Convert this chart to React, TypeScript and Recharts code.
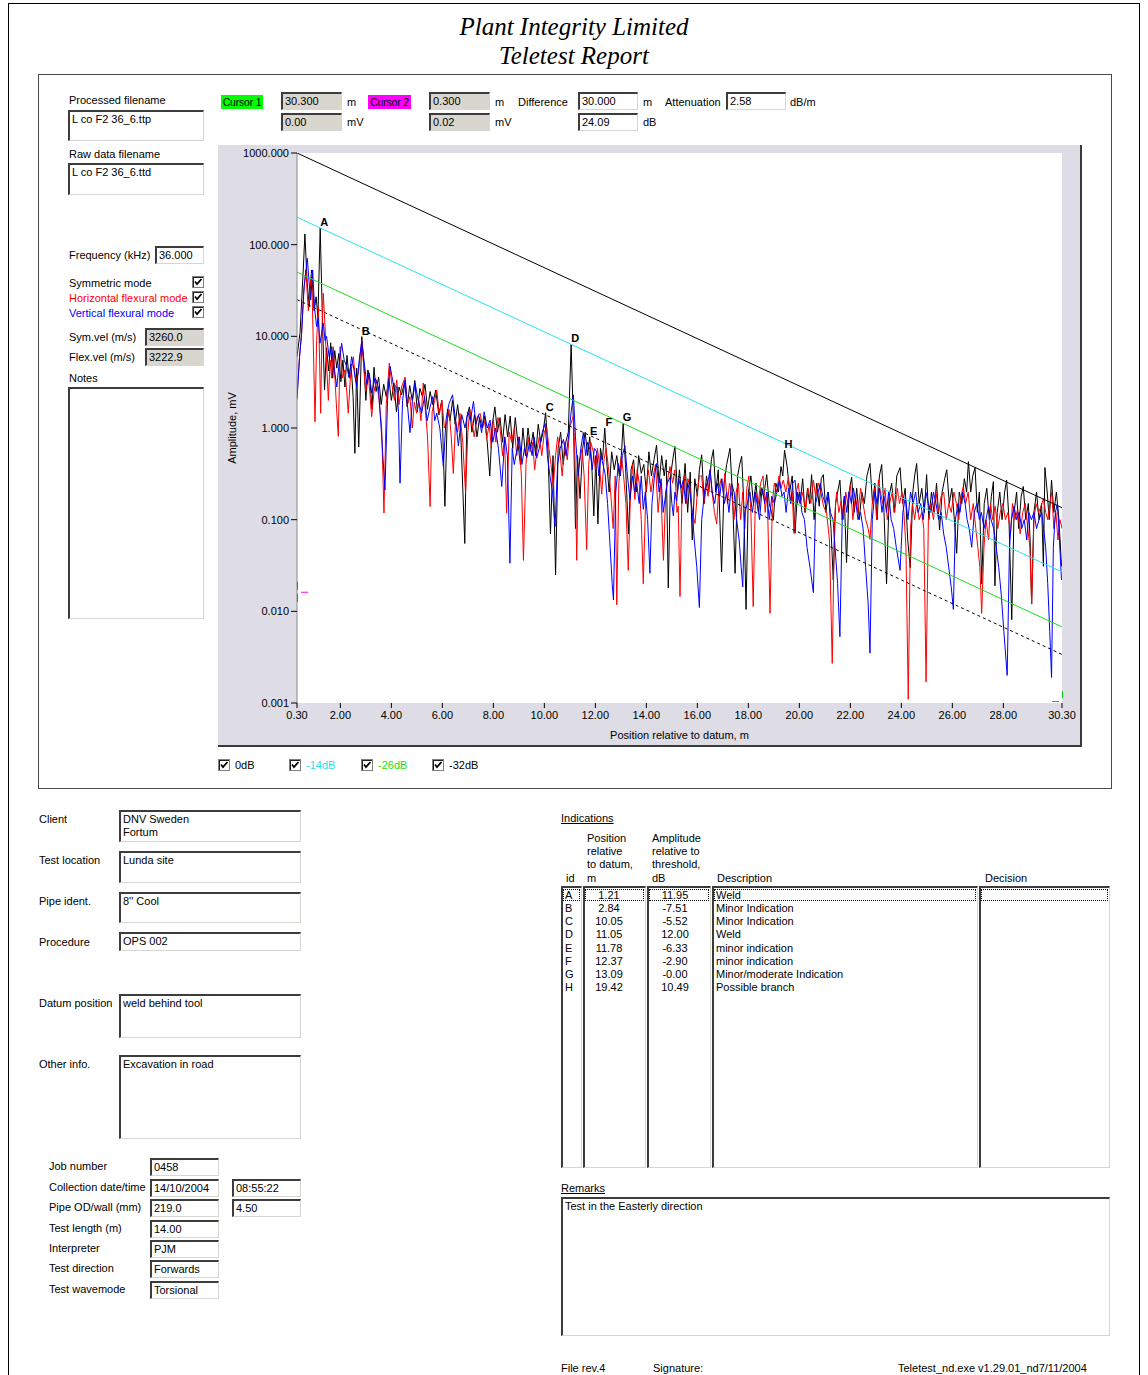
import React from 'react';
import { LineChart, Line, XAxis, YAxis, ReferenceArea, ReferenceDot, Label } from 'recharts';

const FONT = '"Liberation Sans", Arial, Helvetica, sans-serif';
const SERIF = '"Liberation Serif", "Times New Roman", serif';

// ---- axes -------------------------------------------------------------
const X_TICKS = [0.3, 2, 4, 6, 8, 10, 12, 14, 16, 18, 20, 22, 24, 26, 28, 30.3];
const Y_TICKS = [0.001, 0.01, 0.1, 1, 10, 100, 1000];
const RANGE_START = 0.3;
const RANGE_END = 30.3;

// ---- distance-amplitude curves ---------------------------------------
const DAC_REF_MV = 1000;
const ATTENUATION_DB_PER_M = 2.58;
const THRESHOLD_DB = -26;
const DAC_LEVELS_DB = [0, -14, -26, -32];
const DAC_NAMES = ['0dB', '-14dB', '-26dB', '-32dB'];
const DAC_COLORS = ['#000000', '#26e2f0', '#1cdc1c', '#000000'];
const DAC_DASH = ['', '', '', '3 3'];

// ---- cursors ------------------------------------------------------------
const CURSOR1 = { pos: 30.3, mv: 0.001 };
const CURSOR2 = { pos: 0.3, mv: 0.02 };

// ---- indications ----------------------------------------------------------
const IND_ID = ['A', 'B', 'C', 'D', 'E', 'F', 'G', 'H'];
const IND_POS = [1.21, 2.84, 10.05, 11.05, 11.78, 12.37, 13.09, 19.42];
const IND_DB = [11.95, -7.51, -5.52, 12.0, -6.33, -2.9, -0.0, 10.49];
const IND_DESC = [
  'Weld',
  'Minor Indication',
  'Minor Indication',
  'Weld',
  'minor indication',
  'minor indication',
  'Minor/moderate Indication',
  'Possible branch',
];

// ---- wave mode traces: [position m, amplitude mV] -------------------------
const SYMMETRIC: [number, number][] = [
  [0.3, 6], [0.42, 11], [0.55, 57], [0.61, 131], [0.7, 38], [0.78, 21], [0.87, 53], [0.97, 19], [1.05, 27], [1.12, 16],
  [1.3, 14], [1.38, 2.6], [1.46, 7.5], [1.54, 4.2], [1.62, 8.5], [1.7, 3.5], [1.78, 7], [1.86, 4.5], [1.94, 6.5], [2.02, 3.2],
  [2.1, 5.5], [2.18, 2.8], [2.26, 6.2], [2.34, 3.6], [2.42, 5], [2.5, 2.2], [2.57, 0.53], [2.64, 4.5], [2.72, 0.62],
  [2.92, 5.2], [3.0, 2.0], [3.08, 4.3], [3.16, 3.4], [3.24, 1.6], [3.32, 4.6], [3.4, 2.5], [3.5, 3.6], [3.6, 1.8], [3.7, 3.0],
  [3.8, 2.2], [3.9, 3.5], [4.0, 2.0], [4.1, 3.1], [4.2, 1.5], [4.3, 2.8], [4.4, 2.3], [4.52, 3.2], [4.62, 1.7], [4.72, 2.9],
  [4.82, 2.0], [4.92, 3.3], [5.02, 1.5], [5.12, 2.7], [5.22, 2.2], [5.32, 3.0], [5.42, 1.6], [5.52, 2.5], [5.62, 1.8], [5.74, 2.6],
  [5.86, 1.4], [5.98, 2.0], [6.1, 0.14], [6.2, 1.6], [6.3, 1.2], [6.4, 2.0], [6.5, 1.1], [6.6, 1.8], [6.72, 0.9], [6.88, 0.055],
  [6.96, 1.3], [7.06, 1.7], [7.16, 0.9], [7.26, 1.4], [7.36, 0.8], [7.46, 1.3], [7.56, 1.0], [7.66, 1.35], [7.76, 0.7], [7.86, 0.3],
  [7.96, 1.1], [8.06, 1.7], [8.16, 0.9], [8.26, 1.3], [8.36, 0.7], [8.46, 1.4], [8.56, 0.8], [8.66, 1.35], [8.76, 0.6], [8.86, 1.3],
  [8.96, 0.7], [9.06, 0.4], [9.16, 1.0], [9.26, 0.5], [9.36, 1.0], [9.46, 0.6], [9.56, 0.9], [9.66, 0.5], [9.76, 1.1], [9.86, 0.7],
  [9.95, 0.9], [10.14, 0.6], [10.24, 0.07], [10.34, 0.5], [10.44, 0.025], [10.54, 0.6], [10.64, 0.9], [10.74, 0.4], [10.84, 0.7], [10.94, 0.9],
  [11.15, 0.9], [11.22, 0.08], [11.3, 0.5], [11.4, 0.17], [11.5, 0.6], [11.6, 0.9], [11.7, 0.5], [11.86, 0.4], [11.94, 0.11], [12.02, 0.5],
  [12.1, 0.09], [12.2, 0.6], [12.28, 0.45], [12.46, 0.38], [12.54, 0.2], [12.64, 0.55], [12.74, 0.35], [12.84, 0.5], [12.94, 0.3], [13.02, 0.5],
  [13.18, 0.4], [13.3, 0.07], [13.4, 0.35], [13.5, 0.45], [13.6, 0.2], [13.7, 0.5], [13.8, 0.32], [13.9, 0.4], [14.0, 0.2], [14.1, 0.55],
  [14.2, 0.3], [14.3, 0.45], [14.4, 0.65], [14.5, 0.25], [14.6, 0.5], [14.7, 0.3], [14.78, 0.45], [14.86, 0.018], [14.95, 0.3], [15.05, 0.48],
  [15.12, 0.63], [15.22, 0.2], [15.3, 0.35], [15.4, 0.15], [15.52, 0.41], [15.62, 0.12], [15.72, 0.33], [15.8, 0.06], [15.9, 0.28], [16.0, 0.18],
  [16.08, 0.35], [16.17, 0.51], [16.27, 0.15], [16.36, 0.3], [16.45, 0.2], [16.55, 0.45], [16.63, 0.58], [16.72, 0.2], [16.82, 0.35], [16.95, 0.027],
  [17.05, 0.25], [17.15, 0.4], [17.28, 0.6], [17.38, 0.18], [17.48, 0.026], [17.58, 0.3], [17.66, 0.4], [17.74, 0.49], [17.82, 0.15], [17.91, 0.0105],
  [18.0, 0.2], [18.1, 0.3], [18.2, 0.15], [18.3, 0.25], [18.4, 0.12], [18.5, 0.22], [18.6, 0.18], [18.72, 0.31], [18.82, 0.15], [18.98, 0.1],
  [19.08, 0.25], [19.18, 0.2], [19.28, 0.38], [19.35, 0.3], [19.52, 0.38], [19.62, 0.2], [19.72, 0.3], [19.83, 0.071], [19.93, 0.2], [20.03, 0.15],
  [20.13, 0.28], [20.22, 0.12], [20.32, 0.22], [20.4, 0.15], [20.48, 0.31], [20.58, 0.1], [20.68, 0.25], [20.78, 0.14], [20.86, 0.28], [20.94, 0.31],
  [21.04, 0.12], [21.14, 0.2], [21.24, 0.08], [21.33, 0.022], [21.42, 0.15], [21.5, 0.2], [21.59, 0.27], [21.68, 0.1], [21.76, 0.18], [21.85, 0.034],
  [21.95, 0.2], [22.05, 0.29], [22.15, 0.12], [22.25, 0.22], [22.35, 0.1], [22.45, 0.2], [22.55, 0.15], [22.65, 0.3], [22.77, 0.41], [22.87, 0.15],
  [22.96, 0.25], [23.05, 0.1], [23.14, 0.3], [23.23, 0.4], [23.32, 0.12], [23.42, 0.02], [23.52, 0.18], [23.62, 0.25], [23.72, 0.12], [23.82, 0.3],
  [23.95, 0.37], [24.05, 0.15], [24.15, 0.22], [24.25, 0.06], [24.35, 0.03], [24.45, 0.2], [24.52, 0.3], [24.6, 0.41], [24.7, 0.15], [24.8, 0.22],
  [24.9, 0.12], [24.99, 0.31], [25.08, 0.1], [25.18, 0.2], [25.28, 0.12], [25.38, 0.25], [25.5, 0.077], [25.6, 0.2], [25.7, 0.28], [25.78, 0.35],
  [25.88, 0.15], [25.98, 0.22], [26.08, 0.1], [26.17, 0.043], [26.27, 0.2], [26.37, 0.15], [26.47, 0.28], [26.56, 0.2], [26.63, 0.43], [26.72, 0.2],
  [26.8, 0.3], [26.89, 0.37], [26.98, 0.12], [27.06, 0.2], [27.15, 0.02], [27.25, 0.15], [27.35, 0.22], [27.45, 0.1], [27.53, 0.18], [27.61, 0.26],
  [27.67, 0.019], [27.76, 0.12], [27.86, 0.2], [27.95, 0.1], [28.05, 0.2], [28.13, 0.27], [28.22, 0.1], [28.33, 0.0081], [28.42, 0.12], [28.52, 0.2],
  [28.6, 0.08], [28.7, 0.18], [28.78, 0.23], [28.88, 0.1], [28.98, 0.15], [29.05, 0.06], [29.11, 0.012], [29.2, 0.12], [29.3, 0.2], [29.4, 0.1],
  [29.5, 0.15], [29.57, 0.031], [29.63, 0.37], [29.72, 0.2], [29.8, 0.1], [29.89, 0.27], [29.98, 0.12], [30.08, 0.2], [30.18, 0.1], [30.28, 0.031],
];

const HORIZONTAL: [number, number][] = [
  [0.3, 2.2], [0.4, 6], [0.48, 10.7], [0.56, 30], [0.65, 53], [0.7, 30], [0.745, 19], [0.81, 35], [0.875, 49], [0.94, 8],
  [1.006, 1.17], [1.07, 9], [1.137, 21], [1.19, 5], [1.228, 1.45], [1.28, 12], [1.33, 29.5], [1.4, 12.8], [1.46, 5], [1.53, 2.0],
  [1.6, 5.5], [1.66, 3.5], [1.72, 7.7], [1.8, 3], [1.86, 1.5], [1.92, 0.81], [1.99, 7.7], [2.08, 3.5], [2.18, 4.3], [2.25, 2.5],
  [2.31, 1.45], [2.4, 3.8], [2.51, 6.0], [2.6, 3.2], [2.71, 4.0], [2.78, 6.5], [2.84, 9.0], [2.92, 4.5], [3.0, 2.5], [3.1, 3.8],
  [3.23, 1.33], [3.32, 2.5], [3.42, 3.35], [3.52, 2.0], [3.62, 1.0], [3.71, 0.118], [3.8, 1.8], [3.92, 5.1], [4.02, 3.0], [4.12, 2.0],
  [4.21, 3.35], [4.3, 1.8], [4.4, 2.8], [4.54, 3.6], [4.63, 1.8], [4.73, 2.2], [4.82, 1.0], [4.9, 1.9], [4.99, 1.45], [5.08, 2.0],
  [5.16, 1.2], [5.25, 3.1], [5.34, 1.5], [5.42, 0.8], [5.52, 0.139], [5.6, 1.5], [5.7, 2.0], [5.78, 2.6], [5.88, 1.4], [5.98, 2.0],
  [6.08, 1.0], [6.17, 1.12], [6.26, 1.6], [6.35, 0.8], [6.43, 0.32], [6.52, 1.2], [6.6, 0.9], [6.69, 1.45], [6.8, 0.7], [6.91, 0.195],
  [7.0, 0.9], [7.08, 1.6], [7.15, 1.22], [7.25, 0.8], [7.36, 1.3], [7.48, 1.45], [7.58, 1.0], [7.66, 1.2], [7.74, 0.77], [7.84, 1.1],
  [7.92, 0.6], [8.0, 1.22], [8.1, 0.7], [8.18, 1.3], [8.26, 1.03], [8.36, 0.5], [8.44, 0.8], [8.52, 0.118], [8.62, 0.9], [8.72, 0.7],
  [8.82, 1.0], [8.92, 0.5], [9.0, 0.8], [9.1, 0.3], [9.18, 0.036], [9.28, 0.4], [9.36, 0.8], [9.44, 0.55], [9.54, 0.7], [9.62, 0.35],
  [9.7, 0.55], [9.8, 0.8], [9.9, 0.5], [10.0, 0.9], [10.09, 1.03], [10.18, 0.6], [10.26, 0.4], [10.35, 0.23], [10.44, 0.5], [10.52, 0.8],
  [10.61, 0.55], [10.7, 0.3], [10.8, 0.7], [10.9, 0.45], [11.0, 1.03], [11.14, 1.35], [11.2, 0.5], [11.27, 0.036], [11.33, 0.35], [11.4, 0.46],
  [11.48, 0.6], [11.56, 0.3], [11.66, 0.047], [11.74, 0.4], [11.82, 0.7], [11.92, 0.55], [12.0, 0.35], [12.08, 0.6], [12.16, 0.4], [12.25, 0.19],
  [12.34, 0.45], [12.42, 0.6], [12.51, 0.38], [12.6, 0.2], [12.7, 0.08], [12.78, 0.3], [12.84, 0.0118], [12.92, 0.25], [13.02, 0.5], [13.1, 0.32],
  [13.2, 0.15], [13.29, 0.028], [13.38, 0.2], [13.46, 0.4], [13.55, 0.166], [13.64, 0.35], [13.72, 0.25], [13.8, 0.1], [13.88, 0.02], [13.98, 0.2],
  [14.08, 0.35], [14.18, 0.2], [14.27, 0.3], [14.36, 0.4], [14.46, 0.12], [14.56, 0.25], [14.67, 0.036], [14.76, 0.2], [14.86, 0.3], [14.93, 0.38],
  [15.03, 0.25], [15.12, 0.35], [15.2, 0.12], [15.25, 0.14], [15.32, 0.0145], [15.4, 0.2], [15.48, 0.3], [15.56, 0.15], [15.63, 0.28], [15.71, 0.22],
  [15.8, 0.12], [15.91, 0.091], [16.0, 0.2], [16.08, 0.3], [16.17, 0.3], [16.26, 0.15], [16.34, 0.25], [16.42, 0.18], [16.5, 0.35], [16.58, 0.2],
  [16.67, 0.12], [16.76, 0.09], [16.84, 0.22], [16.94, 0.28], [17.02, 0.2], [17.08, 0.32], [17.18, 0.15], [17.26, 0.25], [17.36, 0.18], [17.44, 0.1],
  [17.52, 0.2], [17.61, 0.25], [17.7, 0.1], [17.78, 0.2], [17.86, 0.08], [17.94, 0.22], [18.02, 0.3], [18.1, 0.12], [18.19, 0.0113], [18.28, 0.2],
  [18.39, 0.15], [18.48, 0.25], [18.58, 0.3], [18.66, 0.12], [18.74, 0.2], [18.85, 0.0095], [18.94, 0.15], [19.02, 0.25], [19.11, 0.2], [19.2, 0.3],
  [19.28, 0.22], [19.37, 0.27], [19.47, 0.2], [19.57, 0.29], [19.66, 0.15], [19.72, 0.2], [19.79, 0.071], [19.88, 0.2], [19.96, 0.25], [20.04, 0.15],
  [20.14, 0.2], [20.24, 0.12], [20.34, 0.22], [20.45, 0.15], [20.55, 0.27], [20.64, 0.18], [20.74, 0.25], [20.84, 0.2], [20.95, 0.14], [21.07, 0.118],
  [21.18, 0.06], [21.29, 0.0027], [21.38, 0.1], [21.46, 0.2], [21.55, 0.12], [21.64, 0.16], [21.72, 0.1], [21.82, 0.2], [21.9, 0.15], [22.0, 0.24],
  [22.1, 0.1], [22.2, 0.18], [22.3, 0.12], [22.4, 0.22], [22.5, 0.15], [22.6, 0.1], [22.7, 0.08], [22.77, 0.061], [22.86, 0.15], [22.95, 0.22],
  [23.03, 0.1], [23.1, 0.27], [23.18, 0.2], [23.27, 0.15], [23.36, 0.22], [23.45, 0.1], [23.54, 0.15], [23.64, 0.2], [23.74, 0.12], [23.84, 0.22],
  [23.93, 0.15], [24.02, 0.2], [24.1, 0.12], [24.18, 0.05], [24.27, 0.0011], [24.36, 0.08], [24.44, 0.15], [24.52, 0.1], [24.6, 0.15], [24.7, 0.1],
  [24.8, 0.12], [24.88, 0.08], [24.97, 0.0017], [25.06, 0.1], [25.16, 0.15], [25.26, 0.1], [25.36, 0.2], [25.46, 0.12], [25.56, 0.18], [25.66, 0.2],
  [25.76, 0.1], [25.86, 0.15], [25.96, 0.12], [26.06, 0.2], [26.16, 0.15], [26.25, 0.1], [26.34, 0.18], [26.43, 0.23], [26.52, 0.15], [26.62, 0.2],
  [26.72, 0.1], [26.82, 0.15], [26.92, 0.08], [27.0, 0.05], [27.08, 0.03], [27.15, 0.0095], [27.24, 0.05], [27.32, 0.1], [27.42, 0.06], [27.5, 0.15],
  [27.58, 0.1], [27.68, 0.14], [27.78, 0.08], [27.88, 0.12], [27.98, 0.15], [28.08, 0.1], [28.18, 0.12], [28.28, 0.07], [28.36, 0.15], [28.46, 0.1],
  [28.56, 0.13], [28.66, 0.07], [28.76, 0.12], [28.86, 0.15], [28.96, 0.08], [29.04, 0.05], [29.11, 0.012], [29.2, 0.1], [29.28, 0.15], [29.38, 0.12],
  [29.48, 0.14], [29.57, 0.17], [29.66, 0.12], [29.74, 0.1], [29.82, 0.15], [29.9, 0.2], [29.98, 0.08], [30.06, 0.12], [30.14, 0.06], [30.22, 0.1],
  [30.3, 0.08],
];

const VERTICAL: [number, number][] = [
  [0.3, 2.05], [0.4, 6], [0.48, 10.7], [0.58, 35], [0.705, 71], [0.77, 40], [0.836, 25], [0.915, 53], [0.99, 20], [1.07, 12.8],
  [1.13, 16], [1.2, 8.4], [1.27, 11], [1.33, 14], [1.4, 9], [1.46, 10], [1.56, 6], [1.66, 7.7], [1.76, 4.5], [1.86, 2.8],
  [1.95, 5], [2.05, 8.4], [2.15, 5.5], [2.25, 4.7], [2.35, 3.5], [2.44, 6.0], [2.54, 4.2], [2.64, 2.8], [2.74, 5.5], [2.84, 8.8],
  [2.94, 5], [3.04, 3.0], [3.13, 4.0], [3.23, 2.4], [3.36, 3.5], [3.49, 2.8], [3.6, 1.0], [3.75, 0.21], [3.85, 2.0], [3.95, 4.7],
  [4.08, 3.0], [4.21, 2.8], [4.28, 1.5], [4.34, 0.25], [4.44, 2.0], [4.54, 3.35], [4.63, 1.8], [4.73, 0.89], [4.83, 2.0], [4.93, 3.1],
  [5.05, 2.0], [5.19, 1.45], [5.3, 2.2], [5.4, 1.2], [5.52, 1.7], [5.62, 2.2], [5.7, 1.2], [5.78, 1.45], [5.9, 1.0], [6.04, 0.38],
  [6.14, 1.2], [6.25, 1.8], [6.4, 2.3], [6.52, 1.2], [6.63, 0.64], [6.76, 1.4], [6.89, 1.0], [7.0, 1.5], [7.1, 1.2], [7.22, 1.95],
  [7.32, 1.1], [7.42, 1.4], [7.54, 0.89], [7.64, 1.5], [7.76, 1.0], [7.87, 1.22], [7.98, 0.7], [8.08, 1.0], [8.2, 0.6], [8.33, 0.23],
  [8.45, 0.8], [8.55, 0.5], [8.65, 0.0335], [8.74, 0.6], [8.82, 0.4], [8.91, 0.55], [9.02, 0.8], [9.12, 0.4], [9.22, 0.6], [9.31, 0.47],
  [9.42, 0.7], [9.52, 0.5], [9.6, 0.8], [9.7, 0.47], [9.8, 0.6], [9.92, 0.9], [10.03, 1.12], [10.12, 0.5], [10.22, 0.3], [10.32, 0.2],
  [10.42, 0.084], [10.52, 0.4], [10.62, 0.6], [10.75, 0.75], [10.85, 0.5], [10.95, 0.8], [11.05, 1.5], [11.14, 2.3], [11.22, 0.8], [11.33, 0.3],
  [11.43, 0.6], [11.53, 0.89], [11.62, 0.5], [11.7, 0.7], [11.79, 0.58], [11.88, 0.35], [11.96, 0.6], [12.05, 0.55], [12.14, 0.3], [12.22, 0.5],
  [12.3, 0.4], [12.38, 0.32], [12.48, 0.15], [12.58, 0.05], [12.66, 0.02], [12.71, 0.0133], [12.8, 0.2], [12.9, 0.41], [12.98, 0.3], [13.06, 0.5],
  [13.16, 0.64], [13.26, 0.3], [13.36, 0.166], [13.46, 0.3], [13.54, 0.2], [13.62, 0.25], [13.72, 0.15], [13.8, 0.3], [13.88, 0.13], [13.96, 0.2],
  [14.05, 0.1], [14.14, 0.026], [14.22, 0.15], [14.32, 0.3], [14.4, 0.41], [14.5, 0.2], [14.58, 0.28], [14.66, 0.12], [14.73, 0.166], [14.82, 0.25],
  [14.93, 0.29], [15.0, 0.15], [15.06, 0.11], [15.12, 0.2], [15.19, 0.16], [15.27, 0.28], [15.36, 0.22], [15.45, 0.27], [15.54, 0.15], [15.62, 0.25],
  [15.71, 0.2], [15.8, 0.12], [15.88, 0.06], [15.98, 0.03], [16.08, 0.011], [16.17, 0.1], [16.3, 0.22], [16.4, 0.25], [16.5, 0.35], [16.58, 0.2],
  [16.68, 0.15], [16.78, 0.25], [16.88, 0.18], [16.96, 0.28], [17.06, 0.15], [17.15, 0.2], [17.24, 0.12], [17.34, 0.25], [17.44, 0.2], [17.54, 0.1],
  [17.64, 0.06], [17.72, 0.03], [17.78, 0.0185], [17.86, 0.12], [17.96, 0.15], [18.06, 0.2], [18.16, 0.12], [18.26, 0.2], [18.34, 0.15], [18.44, 0.1],
  [18.54, 0.22], [18.64, 0.15], [18.72, 0.2], [18.82, 0.1], [18.92, 0.18], [19.02, 0.15], [19.12, 0.2], [19.22, 0.27], [19.32, 0.18], [19.4, 0.2],
  [19.48, 0.12], [19.58, 0.22], [19.66, 0.15], [19.74, 0.25], [19.83, 0.27], [19.92, 0.15], [20.02, 0.2], [20.1, 0.12], [20.2, 0.1], [20.3, 0.05],
  [20.42, 0.03], [20.55, 0.016], [20.64, 0.15], [20.74, 0.2], [20.82, 0.25], [20.92, 0.18], [21.02, 0.15], [21.12, 0.2], [21.22, 0.12], [21.32, 0.1],
  [21.4, 0.05], [21.5, 0.02], [21.59, 0.0053], [21.68, 0.1], [21.78, 0.18], [21.86, 0.12], [21.95, 0.2], [22.04, 0.15], [22.12, 0.22], [22.22, 0.15],
  [22.3, 0.1], [22.4, 0.12], [22.5, 0.08], [22.6, 0.03], [22.7, 0.012], [22.77, 0.0035], [22.86, 0.1], [22.96, 0.2], [23.05, 0.15], [23.14, 0.22],
  [23.24, 0.12], [23.32, 0.18], [23.42, 0.12], [23.5, 0.2], [23.6, 0.1], [23.7, 0.08], [23.8, 0.05], [23.95, 0.028], [24.06, 0.12], [24.16, 0.18],
  [24.26, 0.1], [24.36, 0.2], [24.46, 0.15], [24.56, 0.2], [24.66, 0.12], [24.76, 0.15], [24.86, 0.1], [24.96, 0.2], [25.06, 0.15], [25.16, 0.12],
  [25.26, 0.2], [25.36, 0.15], [25.46, 0.1], [25.56, 0.12], [25.66, 0.07], [25.76, 0.05], [25.86, 0.03], [25.96, 0.018], [26.04, 0.0105], [26.12, 0.1],
  [26.22, 0.15], [26.3, 0.12], [26.4, 0.2], [26.5, 0.15], [26.58, 0.1], [26.66, 0.08], [26.76, 0.05], [26.86, 0.12], [26.96, 0.15], [27.06, 0.1],
  [27.14, 0.12], [27.24, 0.08], [27.32, 0.1], [27.42, 0.14], [27.52, 0.1], [27.62, 0.08], [27.72, 0.05], [27.82, 0.03], [27.92, 0.015], [28.02, 0.006],
  [28.15, 0.002], [28.24, 0.05], [28.32, 0.1], [28.42, 0.14], [28.52, 0.1], [28.62, 0.12], [28.72, 0.08], [28.82, 0.1], [28.92, 0.06], [29.0, 0.12],
  [29.1, 0.1], [29.2, 0.12], [29.3, 0.08], [29.4, 0.1], [29.5, 0.12], [29.58, 0.08], [29.66, 0.05], [29.74, 0.02], [29.82, 0.006], [29.89, 0.0019],
  [29.96, 0.05], [30.04, 0.12], [30.12, 0.15], [30.2, 0.06], [30.28, 0.022],
];

// ---- report fields --------------------------------------------------------------
const JOB_LABELS = ['Job number', 'Collection date/time', 'Pipe OD/wall (mm)', 'Test length (m)', 'Interpreter', 'Test direction', 'Test wavemode'];
const JOB_VALUES = ['0458', '14/10/2004', '219.0', '14.00', 'PJM', 'Forwards', 'Torsional'];
const JOB_EXTRA = ['', '08:55:22', '4.50', '', '', '', ''];

// ---- derived chart data ------------------------------------------------------------
const dacAt = (levelDb: number, pos: number) =>
  DAC_REF_MV * Math.pow(10, (levelDb - ATTENUATION_DB_PER_M * (pos - RANGE_START)) / 20);

const dacLines = DAC_LEVELS_DB.map((lvl) => [
  { x: RANGE_START, y: dacAt(lvl, RANGE_START) },
  { x: RANGE_END, y: dacAt(lvl, RANGE_END) },
]);

const peaks = IND_ID.map((id, i) => ({
  id,
  x: IND_POS[i],
  y: dacAt(THRESHOLD_DB, IND_POS[i]) * Math.pow(10, IND_DB[i] / 20),
}));

const toPts = (arr: [number, number][]) => arr.map(([x, y]) => ({ x, y }));
const symData = [...toPts(SYMMETRIC), ...peaks.map((p) => ({ x: p.x, y: p.y }))].sort((a, b) => a.x - b.x);
const horData = toPts(HORIZONTAL);
const verData = toPts(VERTICAL);

const fmtDb = (v: number) => (Object.is(v, -0) ? '-' : '') + v.toFixed(2);

// ---- small UI pieces ----------------------------------------------------------
function T({ x, y, children, color = '#000', size = 11, style = {} }: any) {
  return (
    <div
      style={{
        position: 'absolute',
        left: x,
        top: y - 7,
        fontFamily: FONT,
        fontSize: size,
        lineHeight: '14px',
        color,
        whiteSpace: 'nowrap',
        ...style,
      }}
    >
      {children}
    </div>
  );
}

function Box({ x1, y1, x2, y2, bg = '#fff', children, pad = 2 }: any) {
  return (
    <div
      style={{
        position: 'absolute',
        left: x1,
        top: y1,
        width: x2 - x1,
        height: y2 - y1,
        boxSizing: 'border-box',
        background: bg,
        borderTop: '2px solid #3c3c3c',
        borderLeft: '2px solid #3c3c3c',
        borderBottom: '1px solid #d8d6d0',
        borderRight: '1px solid #d8d6d0',
        fontFamily: FONT,
        fontSize: 11,
        lineHeight: '13px',
        paddingLeft: pad,
        paddingTop: 1,
        color: '#000',
        overflow: 'hidden',
        whiteSpace: 'pre',
      }}
    >
      {children}
    </div>
  );
}

function Tag({ x, y, w, bg, children }: any) {
  return (
    <div
      style={{
        position: 'absolute',
        left: x,
        top: y,
        width: w,
        height: 14,
        background: bg,
        fontFamily: FONT,
        fontSize: 10.5,
        letterSpacing: -0.2,
        lineHeight: '14px',
        textAlign: 'center',
        whiteSpace: 'nowrap',
      }}
    >
      {children}
    </div>
  );
}

function Check({ x, y }: any) {
  return (
    <svg style={{ position: 'absolute', left: x, top: y }} width={12} height={12}>
      <rect x={0.5} y={0.5} width={11} height={11} fill="#fff" stroke="#808080" />
      <line x1={1} y1={1.5} x2={11} y2={1.5} stroke="#202020" />
      <line x1={1.5} y1={1} x2={1.5} y2={11} stroke="#202020" />
      <polyline points="3,5.5 5,8 9.5,3" fill="none" stroke="#000" strokeWidth={1.8} />
    </svg>
  );
}

function PeakLabel(props: any) {
  const { cx, cy, id } = props;
  return (
    <text x={cx + 4} y={cy - 2} textAnchor="middle" fontFamily={FONT} fontSize={11} fontWeight="bold" fill="#000">
      {id}
    </text>
  );
}

function Cursor2Mark(props: any) {
  const { cx, cy } = props;
  return (
    <g stroke="#ff00ff" strokeWidth={1}>
      <line x1={cx + 0.5} y1={cy - 2} x2={cx + 0.5} y2={cy + 6} />
      <line x1={cx + 0.5} y1={cy + 10} x2={cx + 0.5} y2={cy + 18} />
      <line x1={cx + 4} y1={cy + 8.5} x2={cx + 11} y2={cy + 8.5} />
    </g>
  );
}

function Cursor1Mark(props: any) {
  const { cx, cy } = props;
  return (
    <g stroke="#00d000" strokeWidth={1}>
      <line x1={cx + 0.5} y1={cy - 12} x2={cx + 0.5} y2={cy - 5} />
      <line x1={cx - 10} y1={cy - 1.5} x2={cx - 3} y2={cy - 1.5} />
    </g>
  );
}

const tickStyle = { fontSize: 11, fill: '#000', fontFamily: FONT };

function AmplitudeChart() {
  return (
    <LineChart width={862} height={601} margin={{ top: 8, right: 18, bottom: 0, left: 0 }}>
      <XAxis
        type="number"
        dataKey="x"
        domain={[RANGE_START, RANGE_END]}
        ticks={X_TICKS}
        interval={0}
        tickFormatter={(v: number) => v.toFixed(2)}
        height={43}
        allowDataOverflow
        axisLine={false}
        tickLine={{ stroke: '#000' }}
        tickSize={5}
        tickMargin={3}
        tick={tickStyle}
      >
        <Label value="Position relative to datum, m" position="insideBottom" offset={7} style={{ fontSize: 11, fill: '#000', fontFamily: FONT }} />
      </XAxis>
      <YAxis
        type="number"
        dataKey="y"
        scale="log"
        domain={[0.001, 1000]}
        ticks={Y_TICKS}
        interval={0}
        tickFormatter={(v: number) => v.toFixed(3)}
        width={79}
        allowDataOverflow
        axisLine={{ stroke: '#8a8a8a' }}
        tickLine={{ stroke: '#000' }}
        tickSize={6}
        tickMargin={2}
        tick={tickStyle}
      />
      <ReferenceArea x1={RANGE_START} x2={RANGE_END} y1={0.001} y2={1000} fill="#ffffff" fillOpacity={1} stroke="none" />
      <Line data={symData} dataKey="y" type="linear" stroke="#000000" strokeWidth={1} dot={false} isAnimationActive={false} />
      <Line data={horData} dataKey="y" type="linear" stroke="#ff0000" strokeWidth={1} dot={false} isAnimationActive={false} />
      <Line data={verData} dataKey="y" type="linear" stroke="#0000ff" strokeWidth={1} dot={false} isAnimationActive={false} />
      {dacLines.map((d, i) => (
        <Line
          key={DAC_NAMES[i]}
          data={d}
          dataKey="y"
          type="linear"
          stroke={DAC_COLORS[i]}
          strokeWidth={1}
          strokeDasharray={DAC_DASH[i] || undefined}
          dot={false}
          isAnimationActive={false}
        />
      ))}
      {peaks.map((p) => (
        <ReferenceDot key={p.id} x={p.x} y={p.y} r={0} ifOverflow="visible" shape={(props: any) => <PeakLabel {...props} id={p.id} />} />
      ))}
      <ReferenceDot x={CURSOR2.pos} y={CURSOR2.mv} r={0} ifOverflow="visible" shape={(props: any) => <Cursor2Mark {...props} />} />
      <ReferenceDot x={CURSOR1.pos} y={CURSOR1.mv} r={0} ifOverflow="visible" shape={(props: any) => <Cursor1Mark {...props} />} />
    </LineChart>
  );
}

export default function App() {
  const rowY = [895, 908, 921, 934, 948, 961, 974, 987];
  const jobY = [1166, 1187, 1207, 1228, 1248, 1268, 1289];
  return (
    <div style={{ position: 'absolute', left: 0, top: 0, width: 1148, height: 1375, overflow: 'hidden', background: '#fff' }}>
      {/* page frame */}
      <div style={{ position: 'absolute', left: 8, top: 3, width: 1132, height: 1400, borderLeft: '1px solid #000', borderTop: '1px solid #000', borderRight: '1px solid #000', boxSizing: 'border-box' }} />

      {/* title */}
      <div style={{ position: 'absolute', left: 0, width: 1148, top: 12, textAlign: 'center', fontFamily: SERIF, fontStyle: 'italic', fontSize: 25, lineHeight: '29px' }}>
        Plant Integrity Limited
        <br />
        Teletest Report
      </div>

      {/* chart panel */}
      <div style={{ position: 'absolute', left: 38, top: 74, width: 1074, height: 715, border: '1px solid #4a4a4a', boxSizing: 'border-box' }} />

      <T x={69} y={100}>Processed filename</T>
      <Box x1={68} y1={110} x2={204} y2={141}>L co F2 36_6.ttp</Box>
      <T x={69} y={154}>Raw data filename</T>
      <Box x1={68} y1={163} x2={204} y2={195}>L co F2 36_6.ttd</Box>
      <T x={69} y={255}>Frequency (kHz)</T>
      <Box x1={155} y1={246} x2={204} y2={264}>36.000</Box>
      <T x={69} y={283}>Symmetric mode</T>
      <T x={69} y={298} color="#ff0000">Horizontal flexural mode</T>
      <T x={69} y={313} color="#0000ff">Vertical flexural mode</T>
      <Check x={192} y={276} />
      <Check x={192} y={291} />
      <Check x={192} y={306} />
      <T x={69} y={337}>Sym.vel (m/s)</T>
      <Box x1={145} y1={328} x2={204} y2={346} bg="#d9d6cf">3260.0</Box>
      <T x={69} y={357}>Flex.vel (m/s)</T>
      <Box x1={145} y1={348} x2={204} y2={366} bg="#d9d6cf">3222.9</Box>
      <T x={69} y={378}>Notes</T>
      <Box x1={68} y1={387} x2={204} y2={619} />

      {/* cursor readouts */}
      <Tag x={221} y={95} w={42} bg="#00ff00">Cursor 1</Tag>
      <Box x1={281} y1={92} x2={342} y2={110} bg="#d9d6cf">30.300</Box>
      <T x={347} y={102}>m</T>
      <Box x1={281} y1={113} x2={342} y2={131} bg="#d9d6cf">0.00</Box>
      <T x={347} y={122}>mV</T>
      <Tag x={368} y={95} w={43} bg="#ff00ff">Cursor 2</Tag>
      <Box x1={429} y1={92} x2={490} y2={110} bg="#d9d6cf">0.300</Box>
      <T x={495} y={102}>m</T>
      <Box x1={429} y1={113} x2={490} y2={131} bg="#d9d6cf">0.02</Box>
      <T x={495} y={122}>mV</T>
      <T x={518} y={102}>Difference</T>
      <Box x1={578} y1={92} x2={638} y2={110}>30.000</Box>
      <T x={643} y={102}>m</T>
      <Box x1={578} y1={113} x2={638} y2={131}>24.09</Box>
      <T x={643} y={122}>dB</T>
      <T x={665} y={102}>Attenuation</T>
      <Box x1={726} y1={92} x2={786} y2={110}>{ATTENUATION_DB_PER_M.toFixed(2)}</Box>
      <T x={790} y={102}>dB/m</T>

      {/* chart */}
      <div style={{ position: 'absolute', left: 218, top: 145, width: 862, height: 601, background: '#dedde5' }}>
        <AmplitudeChart />
      </div>
      <div style={{ position: 'absolute', left: 218, top: 745, width: 864, height: 2, background: '#3a3a3a' }} />
      <div style={{ position: 'absolute', left: 1080, top: 145, width: 2, height: 602, background: '#3a3a3a' }} />
      <div style={{ position: 'absolute', left: 232 - 50, top: 428 - 7, width: 100, textAlign: 'center', transform: 'rotate(-90deg)', fontFamily: FONT, fontSize: 11, lineHeight: '14px' }}>
        Amplitude, mV
      </div>

      {/* curve toggles */}
      {DAC_NAMES.map((n, i) => {
        const x = [218, 289, 361, 432][i];
        return (
          <React.Fragment key={n}>
            <Check x={x} y={759} />
            <T x={x + 17} y={765} color={i === 1 ? '#26e2f0' : i === 2 ? '#1cdc1c' : '#000'}>{n}</T>
          </React.Fragment>
        );
      })}

      {/* client details */}
      <T x={39} y={819}>Client</T>
      <Box x1={119} y1={810} x2={301} y2={842}>{'DNV Sweden\nFortum'}</Box>
      <T x={39} y={860}>Test location</T>
      <Box x1={119} y1={851} x2={301} y2={883}>Lunda site</Box>
      <T x={39} y={901}>Pipe ident.</T>
      <Box x1={119} y1={892} x2={301} y2={923}>8'' Cool</Box>
      <T x={39} y={942}>Procedure</T>
      <Box x1={119} y1={932} x2={301} y2={951}>OPS 002</Box>
      <T x={39} y={1003}>Datum position</T>
      <Box x1={119} y1={994} x2={301} y2={1038}>weld behind tool</Box>
      <T x={39} y={1064}>Other info.</T>
      <Box x1={119} y1={1055} x2={301} y2={1139}>Excavation in road</Box>

      {JOB_LABELS.map((l, i) => (
        <React.Fragment key={l}>
          <T x={49} y={jobY[i]}>{l}</T>
          <Box x1={150} y1={jobY[i] - 8} x2={219} y2={jobY[i] + 10}>{JOB_VALUES[i]}</Box>
          {JOB_EXTRA[i] ? <Box x1={232} y1={jobY[i] - 8} x2={301} y2={jobY[i] + 10}>{JOB_EXTRA[i]}</Box> : null}
        </React.Fragment>
      ))}

      {/* indications table */}
      <T x={561} y={818} style={{ textDecoration: 'underline' }}>Indications</T>
      <T x={587} y={838}>Position</T>
      <T x={587} y={851}>relative</T>
      <T x={587} y={864}>to datum,</T>
      <T x={587} y={878}>m</T>
      <T x={652} y={838}>Amplitude</T>
      <T x={652} y={851}>relative to</T>
      <T x={652} y={864}>threshold,</T>
      <T x={652} y={878}>dB</T>
      <T x={566} y={878}>id</T>
      <T x={717} y={878}>Description</T>
      <T x={985} y={878}>Decision</T>
      <Box x1={561} y1={886} x2={582} y2={1168} />
      <Box x1={583} y1={886} x2={646} y2={1168} />
      <Box x1={647} y1={886} x2={711} y2={1168} />
      <Box x1={712} y1={886} x2={978} y2={1168} />
      <Box x1={979} y1={886} x2={1110} y2={1168} />
      {[[563, 580], [585, 644], [649, 709], [714, 976], [981, 1108]].map(([a, b]) => (
        <div key={a} style={{ position: 'absolute', left: a, top: 889, width: b - a, height: 12, border: '1px dotted #000', boxSizing: 'border-box' }} />
      ))}
      {IND_ID.map((id, i) => (
        <React.Fragment key={id}>
          <T x={565} y={rowY[i]}>{id}</T>
          <T x={579} y={rowY[i]} style={{ width: 60, textAlign: 'center' }}>{IND_POS[i].toFixed(2)}</T>
          <T x={645} y={rowY[i]} style={{ width: 60, textAlign: 'center' }}>{fmtDb(IND_DB[i])}</T>
          <T x={716} y={rowY[i]}>{IND_DESC[i]}</T>
        </React.Fragment>
      ))}

      {/* remarks */}
      <T x={561} y={1188} style={{ textDecoration: 'underline' }}>Remarks</T>
      <Box x1={561} y1={1197} x2={1110} y2={1336}>Test in the Easterly direction</Box>

      {/* footer */}
      <T x={561} y={1368}>File rev.4</T>
      <T x={653} y={1368}>Signature:</T>
      <T x={898} y={1368}>Teletest_nd.exe v1.29.01_nd7/11/2004</T>
    </div>
  );
}
